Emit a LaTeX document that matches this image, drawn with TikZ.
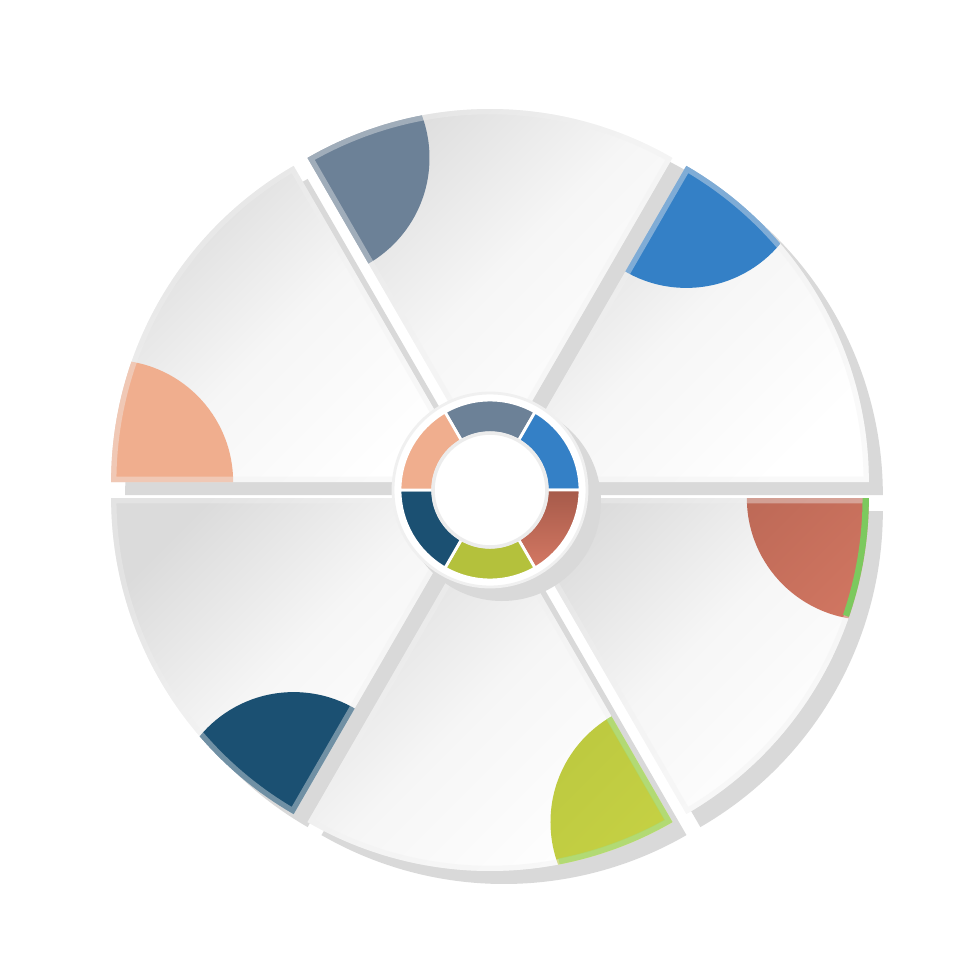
\documentclass[tikz,border=0pt]{standalone}
\usepackage{xcolor}
\usepackage{tikz}

\definecolor{slate}{RGB}{108,129,151}
\definecolor{skyblue}{RGB}{52,128,198}
\definecolor{rustdark}{RGB}{166,90,74}
\definecolor{rustlight}{RGB}{212,120,99}
\definecolor{limedark}{RGB}{180,193,60}
\definecolor{limelight}{RGB}{203,214,70}
\definecolor{navy}{RGB}{27,80,114}
\definecolor{peach}{RGB}{240,174,142}
\definecolor{leafgreen}{RGB}{124,201,94}
\definecolor{palegreen}{RGB}{170,218,112}

% one panel of the wheel, #1 = middle angle
\newcommand{\slice}[1]{(#1:16) -- ++(#1-30:365) arc[start angle=#1-30, end angle=#1+30, radius=365] -- cycle}
% one piece of the small ring, #1 = middle angle
\newcommand{\ringpart}[1]{(#1-30:57) arc[start angle=#1-30, end angle=#1+30, radius=57] -- (#1+30:90) arc[start angle=#1+30, end angle=#1-30, radius=90] -- cycle}

\begin{document}
\begin{tikzpicture}[x=0.1mm, y=0.1mm,
    drop/.style={fill=gray!30, shift={(14,-13)}},
    panel/.style={top color=gray!28, bottom color=white, middle color=gray!7, shading angle=45},
    rim/.style={draw=gray!12, draw opacity=0.4, line width=3pt},
    piece/.style={draw=white, line width=0.8pt}]
    \useasboundingbox (-490,-490) rectangle (490,490);

    % Shadows
    \fill[drop] \slice{90};
    \fill[drop] \slice{30};
    \fill[drop] \slice{-30};
    \fill[drop] \slice{-90};
    \fill[drop] \slice{210};
    \fill[drop] \slice{150};

    % Top panel
    \begin{scope}
        \clip \slice{90};
        \shade[panel] \slice{90};
        \fill[slate] (90:16) ++(120:365) circle[radius=122];
        \draw[rim] \slice{90};
    \end{scope}

    % Upper right panel
    \begin{scope}
        \clip \slice{30};
        \shade[panel] \slice{30};
        \fill[skyblue] (30:16) ++(60:365) circle[radius=122];
        \draw[rim] \slice{30};
    \end{scope}

    % Lower right panel
    \begin{scope}
        \clip \slice{-30};
        \shade[panel] \slice{-30};
        \shade[top color=rustdark, bottom color=rustlight, shading angle=45] (-30:16) ++(0:365) circle[radius=122];
        \draw[rim] \slice{-30};
        \draw[leafgreen, line width=3.6pt] (-30:16) ++(0:365) arc[start angle=0, end angle=-19, radius=365];
    \end{scope}

    % Bottom panel
    \begin{scope}
        \clip \slice{-90};
        \shade[panel] \slice{-90};
        \shade[top color=limedark, bottom color=limelight, shading angle=45] (-90:16) ++(-60:365) circle[radius=122];
        \draw[rim] \slice{-90};
        \draw[palegreen, opacity=0.8, line width=3.4pt] (-90:16) ++(-60:243) -- ++(-60:122) arc[start angle=-60, end angle=-79, radius=365];
    \end{scope}

    % Lower left panel
    \begin{scope}
        \clip \slice{210};
        \shade[panel] \slice{210};
        \fill[navy] (210:16) ++(240:365) circle[radius=122];
        \draw[rim] \slice{210};
    \end{scope}

    % Upper left panel
    \begin{scope}
        \clip \slice{150};
        \shade[panel] \slice{150};
        \fill[peach] (150:16) ++(180:365) circle[radius=122];
        \draw[rim] \slice{150};
    \end{scope}

    % Small ring
    \fill[gray!30] (12,-12) circle[radius=99];
    \filldraw[fill=white, draw=gray!12, line width=0.8pt] (0,0) circle[radius=97];
    \fill[slate, piece] \ringpart{90};
    \fill[skyblue, piece] \ringpart{30};
    \shade[top color=rustdark, bottom color=rustlight, piece] \ringpart{-30};
    \fill[limedark, piece] \ringpart{-90};
    \fill[navy, piece] \ringpart{210};
    \fill[peach, piece] \ringpart{150};
    \filldraw[fill=white, draw=gray!15, line width=1pt] (0,0) circle[radius=57];
\end{tikzpicture}
\end{document}
